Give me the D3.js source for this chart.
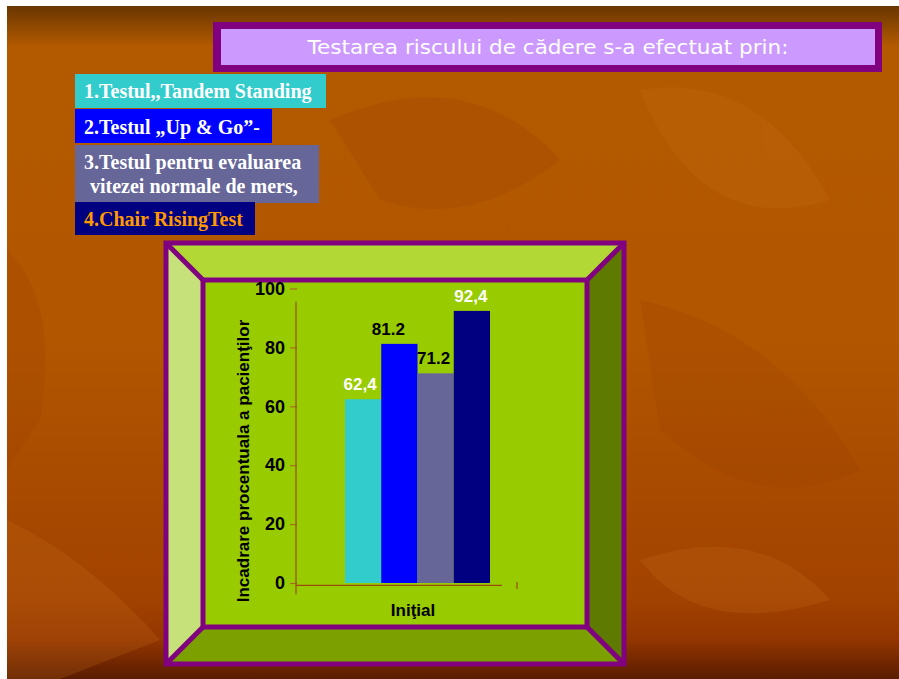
<!DOCTYPE html>
<html>
<head>
<meta charset="utf-8">
<script src="https://cdn.jsdelivr.net/npm/d3@7"></script>
<style>
  html, body { margin: 0; padding: 0; background: #ffffff; }
  svg { display: block; }
</style>
</head>
<body>
<svg id="chart" width="899" height="679"></svg>
<script>
// ---- data ----
const titleText = "Testarea riscului de cădere s-a efectuat prin:";
const categories = ["1.Testul,,Tandem Standing", "2.Testul „Up & Go”-", "3.Testul pentru evaluarea|vitezei normale de mers,", "4.Chair RisingTest"];
const values = [62.4, 81.2, 71.2, 92.4];
const valueLabels = ["62,4", "81.2", "71.2", "92,4"];
const yTicks = [0, 20, 40, 60, 80, 100];
const xCategory = "Iniţial";
const yTitle = "Incadrare procentuala a pacienţilor";

// ---- styles ----
const barColors = ["#33CCCC", "#0000FF", "#666699", "#000080"];
const legendTextColors = ["#ffffff", "#ffffff", "#ffffff", "#FF9900"];
const labelColors = ["#ffffff", "#000000", "#000000", "#ffffff"];

const svg = d3.select("#chart");
const defs = svg.append("defs");

// background gradient
const bg = defs.append("linearGradient").attr("id", "bg").attr("x1", 0).attr("y1", 0).attr("x2", 0).attr("y2", 1);
[[0, "#693600"], [0.06, "#B35A00"], [0.5, "#B25600"], [0.88, "#A24200"], [0.94, "#943600"], [1, "#5A1C00"]]
  .forEach(([o, c]) => bg.append("stop").attr("offset", o).attr("stop-color", c));
svg.append("rect").attr("x", 7).attr("y", 6).attr("width", 892).attr("height", 673).attr("fill", "url(#bg)");

// subtle leaf decoration
const leaves = svg.append("g").attr("opacity", 0.22);
const leafPaths = [
  "M7,250 Q60,300 40,420 L7,470 Z",
  "M7,520 Q90,560 160,640 L60,679 L7,679 Z",
  "M330,120 Q470,60 560,160 Q470,230 380,200 Z",
  "M640,90 Q760,70 830,200 Q700,240 640,90 Z",
  "M640,300 Q780,330 860,470 Q760,520 660,430 Z",
  "M640,560 Q760,520 830,600 Q700,640 640,560 Z"
];
leaves.selectAll("path").data(leafPaths).join("path")
  .attr("d", d => d)
  .attr("fill", (d, i) => i % 2 ? "#C8701A" : "#9A3E00");

// ---- title box ----
svg.append("rect").attr("x", 213).attr("y", 22).attr("width", 669).attr("height", 50).attr("fill", "#800080");
svg.append("rect").attr("x", 221).attr("y", 29).attr("width", 654).attr("height", 36).attr("fill", "#CC99FF");
svg.append("text").attr("x", 548).attr("y", 54).attr("text-anchor", "middle")
  .attr("font-family", "'DejaVu Sans', sans-serif").attr("font-size", 19)
  .attr("textLength", 481).attr("lengthAdjust", "spacingAndGlyphs")
  .attr("fill", "#ffffff").text(titleText);

// ---- legend boxes ----
const legendBoxes = [
  { x: 75, y: 74, w: 251, h: 34, lines: [{ x: 84, y: 98 }] },
  { x: 75, y: 109, w: 197, h: 34, lines: [{ x: 84, y: 134 }] },
  { x: 75, y: 145, w: 244, h: 58, lines: [{ x: 84, y: 169 }, { x: 90, y: 193 }] },
  { x: 75, y: 202, w: 180, h: 33, lines: [{ x: 84, y: 226 }] }
];
const lg = svg.append("g");
legendBoxes.forEach((b, i) => {
  lg.append("rect").attr("x", b.x).attr("y", b.y).attr("width", b.w).attr("height", b.h).attr("fill", barColors[i]);
  const parts = categories[i].split("|");
  parts.forEach((t, j) => {
    lg.append("text").attr("x", b.lines[j].x).attr("y", b.lines[j].y)
      .attr("font-family", "'Liberation Serif', 'Times New Roman', serif")
      .attr("font-weight", "bold").attr("font-size", 20)
      .attr("fill", legendTextColors[i]).text(t);
  });
});

// ---- 3D frame ----
const O = { x0: 166, y0: 243, x1: 624, y1: 664 };
const I = { x0: 203, y0: 280, x1: 587, y1: 627 };
const fr = svg.append("g");
const poly = (pts, fill) => fr.append("polygon").attr("points", pts.map(p => p.join(",")).join(" ")).attr("fill", fill);
poly([[O.x0, O.y0], [O.x1, O.y0], [I.x1, I.y0], [I.x0, I.y0]], "#B2D836");
poly([[O.x0, O.y0], [I.x0, I.y0], [I.x0, I.y1], [O.x0, O.y1]], "#C6E07A");
poly([[O.x1, O.y0], [O.x1, O.y1], [I.x1, I.y1], [I.x1, I.y0]], "#5E7A00");
poly([[O.x0, O.y1], [I.x0, I.y1], [I.x1, I.y1], [O.x1, O.y1]], "#7BA000");
fr.append("rect").attr("x", I.x0).attr("y", I.y0).attr("width", I.x1 - I.x0).attr("height", I.y1 - I.y0).attr("fill", "#99CC00");
const purple = "#800080";
fr.append("rect").attr("x", O.x0).attr("y", O.y0).attr("width", O.x1 - O.x0).attr("height", O.y1 - O.y0)
  .attr("fill", "none").attr("stroke", purple).attr("stroke-width", 5);
fr.append("rect").attr("x", I.x0).attr("y", I.y0).attr("width", I.x1 - I.x0).attr("height", I.y1 - I.y0)
  .attr("fill", "none").attr("stroke", purple).attr("stroke-width", 5);
[[O.x0, O.y0, I.x0, I.y0], [O.x1, O.y0, I.x1, I.y0], [O.x0, O.y1, I.x0, I.y1], [O.x1, O.y1, I.x1, I.y1]]
  .forEach(l => fr.append("line").attr("x1", l[0]).attr("y1", l[1]).attr("x2", l[2]).attr("y2", l[3])
    .attr("stroke", purple).attr("stroke-width", 5));

// ---- chart ----
const y = d3.scaleLinear().domain([0, 100]).range([583, 288.5]);
const x = d3.scaleBand().domain(values.map((d, i) => i)).range([345, 490]).paddingInner(0).paddingOuter(0);

const axisColor = "#9A4A10";
const yAxis = svg.append("g").attr("transform", "translate(297,0)")
  .call(d3.axisLeft(y).tickValues(yTicks).tickSize(7).tickPadding(5).tickFormat(d3.format("d")));
yAxis.select(".domain").remove();
yAxis.selectAll(".tick line").attr("stroke", "#A07020").attr("stroke-width", 1.2);
yAxis.selectAll(".tick text").attr("font-family", "'Liberation Sans', Arial, sans-serif")
  .attr("font-weight", "bold").attr("font-size", 18).attr("fill", "#000");

// axis lines (drawn through scales)
svg.append("line").attr("x1", 296).attr("x2", 296).attr("y1", y(95.5)).attr("y2", y(-3.8))
  .attr("stroke", axisColor).attr("stroke-width", 1.2);
svg.append("line").attr("x1", 296).attr("x2", 502).attr("y1", y(-0.8)).attr("y2", y(-0.8))
  .attr("stroke", axisColor).attr("stroke-width", 1.2);
svg.append("line").attr("x1", 517).attr("x2", 517).attr("y1", y(0.3)).attr("y2", y(-2))
  .attr("stroke", axisColor).attr("stroke-width", 1.2);

// bars
svg.append("g").selectAll("rect").data(values).join("rect")
  .attr("x", (d, i) => x(i))
  .attr("y", d => y(d))
  .attr("width", x.bandwidth())
  .attr("height", d => y(0) - y(d))
  .attr("fill", (d, i) => barColors[i]);

// value labels
const labelDx = [-3, -11, -2, -1];
svg.append("g").selectAll("text").data(values).join("text")
  .attr("x", (d, i) => x(i) + x.bandwidth() / 2 + labelDx[i])
  .attr("y", d => y(d) - 9)
  .attr("text-anchor", "middle")
  .attr("font-family", "'Liberation Sans', Arial, sans-serif")
  .attr("font-weight", "bold").attr("font-size", 17)
  .attr("fill", (d, i) => labelColors[i])
  .text((d, i) => valueLabels[i]);

// x category label
svg.append("text").attr("x", 413).attr("y", 616).attr("text-anchor", "middle")
  .attr("font-family", "'Liberation Sans', Arial, sans-serif")
  .attr("font-weight", "bold").attr("font-size", 17).attr("fill", "#000").text(xCategory);

// y title
svg.append("text").attr("transform", "translate(249,461) rotate(-90)").attr("text-anchor", "middle")
  .attr("font-family", "'Liberation Sans', Arial, sans-serif")
  .attr("font-weight", "bold").attr("font-size", 17).attr("fill", "#000").text(yTitle);
</script>
</body>
</html>
